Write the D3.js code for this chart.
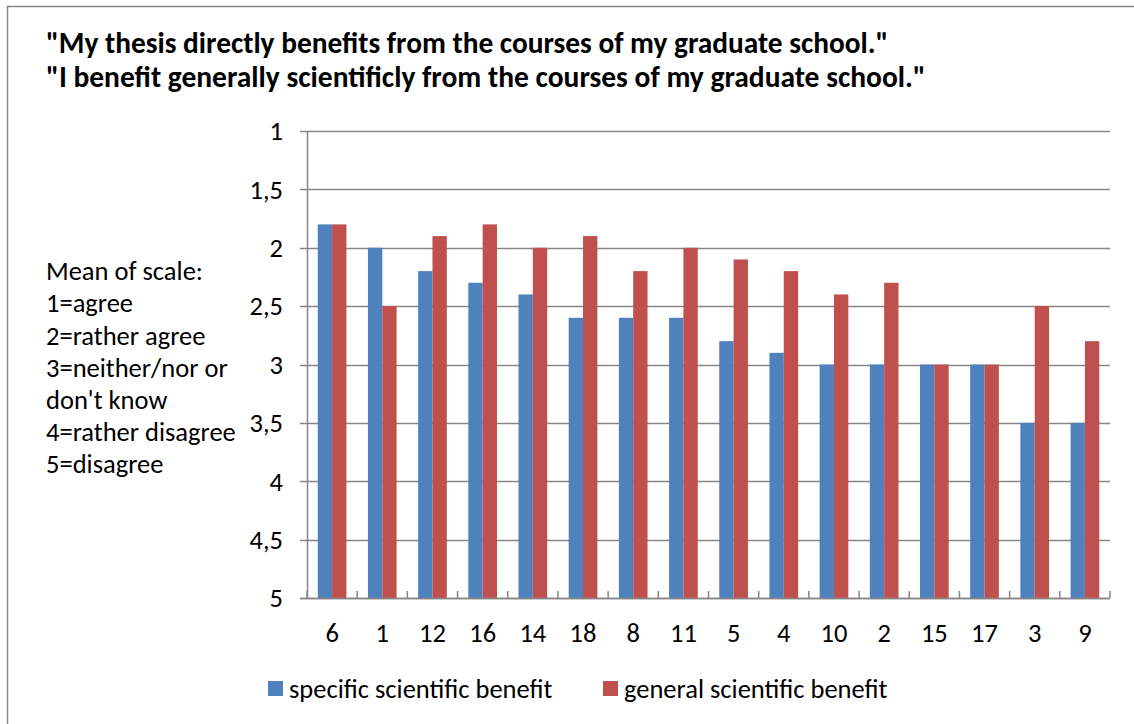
<!DOCTYPE html>
<html><head><meta charset="utf-8">
<script src="https://cdn.jsdelivr.net/npm/d3@7"></script>
<style>body{margin:0;background:#fff;} svg{display:block;}</style>
</head><body>
<svg id="c" width="1134" height="724"></svg>
<script>
const categories = ["6","1","12","16","14","18","8","11","5","4","10","2","15","17","3","9"];
const specific = [1.8,2.0,2.2,2.3,2.4,2.6,2.6,2.6,2.8,2.9,3.0,3.0,3.0,3.0,3.5,3.5];
const general  = [1.8,2.5,1.9,1.8,2.0,1.9,2.2,2.0,2.1,2.2,2.4,2.3,3.0,3.0,2.5,2.8];
const seriesNames = ["specific scientific benefit","general scientific benefit"];
const colors = ["#4F81BD","#C0504D"];
const yTicks = [1,1.5,2,2.5,3,3.5,4,4.5,5];
const titleLines = ['"My thesis directly benefits from the courses of my graduate school."',
                    '"I benefit generally scientificly from the courses of my graduate school."'];
const noteLines = ["Mean of scale:","1=agree","2=rather agree","3=neither/nor or","don't know","4=rather disagree","5=disagree"];

const FONT = "Carlito, Calibri, Lato, sans-serif";
const FS = 26.5;
const svg = d3.select("#c");

// outer chart border
svg.append("rect").attr("x",7.5).attr("y",6.5).attr("width",1140).attr("height",730)
  .attr("fill","#fff").attr("stroke","#868686").attr("stroke-width",1.5);

function fitText(sel, targetW){
  const w = sel.node().getComputedTextLength();
  const fs = parseFloat(sel.attr("font-size"));
  sel.attr("font-size", fs*targetW/w);
}

// title
const t1 = svg.append("text").attr("x",46).attr("y",53).attr("font-family",FONT)
  .attr("font-weight","bold").attr("font-size",24).attr("fill","#000").text(titleLines[0]);
fitText(t1, 843);
const t2 = svg.append("text").attr("x",46).attr("y",87).attr("font-family",FONT)
  .attr("font-weight","bold").attr("font-size",24).attr("fill","#000").text(titleLines[1]);
fitText(t2, 880);

const m = {left:307, right:1110, top:131, bottom:598};
const x = d3.scaleBand().domain(categories).range([m.left,m.right]).paddingInner(0).paddingOuter(0);
const y = d3.scaleLinear().domain([1,5]).range([m.top,m.bottom]);
const barW = x.bandwidth()/3.5;

// gridlines
svg.append("g").selectAll("line").data(yTicks).join("line")
  .attr("x1",m.left-7).attr("x2",m.right)
  .attr("y1",d=>Math.round(y(d))+0.5).attr("y2",d=>Math.round(y(d))+0.5)
  .attr("stroke","#868686").attr("stroke-width",1.5);

// y labels
svg.append("g").selectAll("text").data(yTicks).join("text")
  .attr("x",283).attr("y",d=>y(d)).attr("dy","0.35em").attr("text-anchor","end")
  .attr("font-family",FONT).attr("font-size",FS).attr("fill","#000")
  .text(d=>String(d).replace(".",","));

// bars
const groups = svg.append("g").selectAll("g").data(categories).join("g");
groups.each(function(c,i){
  const g = d3.select(this);
  const x0 = x(c) + (x.bandwidth()-2*barW)/2;
  [specific[i], general[i]].forEach((v,k)=>{
    g.append("rect").attr("x",x0+k*barW).attr("width",barW)
      .attr("y",y(v)).attr("height",y(5)-y(v)).attr("fill",colors[k]);
  });
});

// y axis line
svg.append("line").attr("x1",m.left+0.5).attr("x2",m.left+0.5).attr("y1",m.top).attr("y2",m.bottom)
  .attr("stroke","#868686").attr("stroke-width",1.5);
// x axis line
svg.append("line").attr("x1",m.left-7).attr("x2",m.right).attr("y1",m.bottom+0.5).attr("y2",m.bottom+0.5)
  .attr("stroke","#868686").attr("stroke-width",1.5);
// x ticks at category boundaries
const bounds = categories.map(c=>x(c)).concat([m.right]);
svg.append("g").selectAll("line").data(bounds).join("line")
  .attr("x1",d=>d).attr("x2",d=>d).attr("y1",m.bottom).attr("y2",m.bottom-7)
  .attr("stroke","#868686").attr("stroke-width",1.5);
// x labels
svg.append("g").selectAll("text").data(categories).join("text")
  .attr("x",c=>x(c)+x.bandwidth()/2).attr("y",633).attr("dy","0.35em").attr("text-anchor","middle")
  .attr("font-family",FONT).attr("font-size",FS).attr("fill","#000").text(c=>c);

// note text
svg.append("g").selectAll("text").data(noteLines).join("text")
  .attr("x",46).attr("y",(d,i)=>271+i*32.2).attr("dy","0.35em")
  .attr("font-family",FONT).attr("font-size",FS).attr("fill","#000").text(d=>d);

// legend
const legX = [268, 603];
seriesNames.forEach((n,k)=>{
  svg.append("rect").attr("x",legX[k]).attr("y",681).attr("width",15).attr("height",15).attr("fill",colors[k]);
  svg.append("text").attr("x",legX[k]+21).attr("y",688.5).attr("dy","0.35em")
    .attr("font-family",FONT).attr("font-size",FS).attr("fill","#000").text(n);
});
</script>
</body></html>
